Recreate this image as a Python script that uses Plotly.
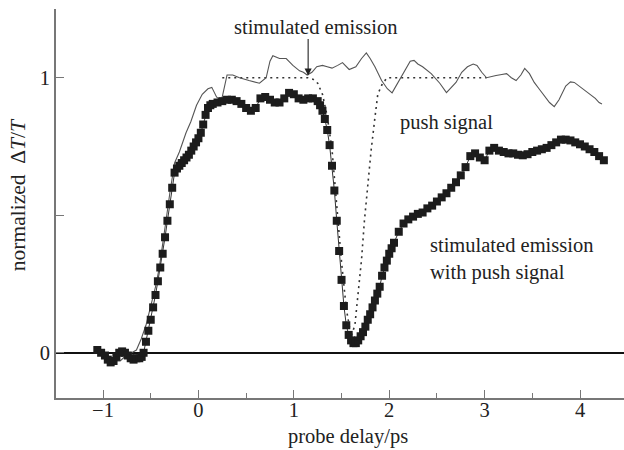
import plotly.graph_objects as go

# ---- data ----
sq_x = [-1.06, -1.02, -0.98, -0.95, -0.92, -0.89, -0.86, -0.83, -0.80, -0.77, -0.74, -0.71, -0.68, -0.65,
        -0.62, -0.595, -0.575, -0.55, -0.525, -0.50, -0.475, -0.45, -0.425, -0.40, -0.375, -0.35, -0.325,
        -0.30, -0.275, -0.25, -0.225, -0.20, -0.175, -0.15, -0.125, -0.10, -0.075, -0.05, -0.025, 0.0,
        0.025, 0.05, 0.075, 0.10, 0.125, 0.15, 0.20, 0.25, 0.30, 0.35, 0.40, 0.45, 0.50, 0.55, 0.60, 0.65,
        0.70, 0.75, 0.80, 0.85, 0.90, 0.95, 1.00, 1.05, 1.10, 1.15, 1.20, 1.25, 1.275, 1.30, 1.325, 1.35,
        1.375, 1.40, 1.425, 1.45, 1.475, 1.50, 1.525, 1.55, 1.575, 1.60, 1.625, 1.65, 1.675, 1.70, 1.725,
        1.75, 1.775, 1.80, 1.825, 1.85, 1.875, 1.90, 1.925, 1.95, 1.975, 2.00, 2.025, 2.05, 2.10, 2.15,
        2.20, 2.25, 2.30, 2.35, 2.40, 2.45, 2.50, 2.55, 2.60, 2.65, 2.70, 2.75, 2.80, 2.85, 2.90, 2.95,
        3.00, 3.05, 3.10, 3.15, 3.20, 3.25, 3.30, 3.35, 3.40, 3.45, 3.50, 3.55, 3.60, 3.65, 3.70, 3.75,
        3.80, 3.85, 3.90, 3.95, 4.00, 4.05, 4.10, 4.15, 4.20, 4.25]
sq_y = [0.01, 0.0, -0.01, -0.025, -0.035, -0.03, -0.015, 0.0, 0.005, 0.0, -0.01, -0.02, -0.025, -0.02,
        -0.02, -0.015, 0.0, 0.04, 0.08, 0.12, 0.165, 0.21, 0.26, 0.31, 0.36, 0.42, 0.48,
        0.54, 0.60, 0.655, 0.67, 0.68, 0.69, 0.70, 0.71, 0.72, 0.735, 0.75, 0.765, 0.78,
        0.80, 0.83, 0.865, 0.89, 0.90, 0.905, 0.91, 0.915, 0.92, 0.92, 0.915, 0.905, 0.89, 0.88, 0.89, 0.925,
        0.93, 0.92, 0.91, 0.91, 0.925, 0.945, 0.94, 0.925, 0.92, 0.925, 0.925, 0.915, 0.90, 0.88, 0.85, 0.81,
        0.755, 0.68, 0.59, 0.48, 0.37, 0.265, 0.17, 0.10, 0.065, 0.045, 0.035, 0.035, 0.045, 0.06, 0.075,
        0.095, 0.12, 0.14, 0.165, 0.19, 0.215, 0.24, 0.28, 0.31, 0.335, 0.36, 0.38, 0.40, 0.44, 0.47,
        0.485, 0.495, 0.505, 0.51, 0.525, 0.535, 0.55, 0.565, 0.58, 0.60, 0.62, 0.645, 0.675, 0.715, 0.725, 0.71,
        0.70, 0.735, 0.745, 0.735, 0.73, 0.725, 0.725, 0.72, 0.718, 0.722, 0.73, 0.735, 0.74, 0.745, 0.755, 0.765,
        0.775, 0.775, 0.772, 0.765, 0.758, 0.75, 0.74, 0.73, 0.715, 0.70]

se_x = [-0.95, -0.88, -0.82, -0.76, -0.70, -0.65, -0.60, -0.55, -0.50, -0.45, -0.41, -0.37, -0.34, -0.30,
        -0.25, -0.20, -0.13, -0.08, -0.02, 0.04, 0.10, 0.14, 0.19, 0.24, 0.27, 0.30, 0.36, 0.43, 0.53,
        0.64, 0.71, 0.75, 0.78, 0.85, 0.92, 0.99, 1.06, 1.10, 1.14, 1.19, 1.24, 1.30, 1.35, 1.40, 1.46,
        1.51, 1.58, 1.65, 1.71, 1.76, 1.80, 1.85, 1.92, 1.98, 2.03, 2.09, 2.16, 2.22, 2.26, 2.30, 2.35,
        2.44, 2.53, 2.60, 2.70, 2.76, 2.82, 2.88, 2.92, 2.97, 3.02, 3.07, 3.12, 3.18, 3.23, 3.28, 3.33,
        3.38, 3.42, 3.47, 3.52, 3.57, 3.61, 3.68, 3.73, 3.78, 3.85, 3.90, 3.94, 4.01, 4.10, 4.16, 4.20, 4.23]
se_y = [-0.01, -0.03, -0.03, -0.01, 0.0, 0.01, 0.05, 0.10, 0.17, 0.24, 0.31, 0.40, 0.48, 0.58,
        0.69, 0.73, 0.80, 0.84, 0.90, 0.94, 0.96, 0.965, 0.93, 0.915, 0.96, 1.01, 1.01, 1.0, 0.99,
        0.98, 1.0, 1.06, 1.08, 1.07, 1.07, 1.045, 1.025, 1.02, 1.01, 1.02, 1.04, 1.045, 1.04, 1.035, 1.045,
        1.055, 1.03, 1.04, 1.07, 1.09, 1.07, 1.04, 0.99, 0.96, 0.945, 0.98, 1.026, 1.06, 1.063, 1.05, 1.04,
        1.015, 0.98, 0.946, 0.983, 1.02, 1.04, 1.05, 1.045, 1.02, 1.0, 1.005, 1.008, 1.012, 1.015, 1.0, 0.99,
        1.01, 1.034, 1.015, 0.983, 0.96, 0.943, 0.91, 0.895, 0.92, 0.97, 0.985, 0.983, 0.965, 0.943, 0.925, 0.91, 0.905]

push_x = [0.25, 0.50, 0.75, 1.00, 1.15, 1.20, 1.25, 1.30, 1.35, 1.40, 1.45, 1.50, 1.55, 1.60, 1.64,
          1.67, 1.71, 1.74, 1.77, 1.81, 1.85, 1.88, 1.93, 1.98, 2.50, 3.02]
push_y = [1.0, 1.0, 1.0, 1.0, 1.0, 0.995, 0.98, 0.94, 0.86, 0.74, 0.52, 0.33, 0.16, 0.06, 0.10,
          0.21, 0.34, 0.48, 0.60, 0.735, 0.855, 0.94, 0.98, 1.0, 1.0, 1.0]

x_tickvals = [-1, 0, 1, 2, 3, 4]
x_ticktext = ["\u22121", "0", "1", "2", "3", "4"]
y_tickvals = [0, 0.5, 1, 1.25]
y_ticktext = ["0", "", "1", ""]

FONT = "Liberation Serif, Times New Roman, serif"
FS = 20.5
TXT = "#222222"
AXC = "#777777"

fig = go.Figure()
fig.add_trace(go.Scatter(x=push_x, y=push_y, mode="lines",
                         line=dict(color="#333333", width=1.6, dash="2px,4px"), hoverinfo="skip"))
fig.add_trace(go.Scatter(x=se_x, y=se_y, mode="lines",
                         line=dict(color="#555555", width=1.1), hoverinfo="skip"))
fig.add_trace(go.Scatter(x=sq_x, y=sq_y, mode="lines+markers",
                         line=dict(color="#333333", width=1),
                         marker=dict(symbol="square", size=8, color="#1c1c1c"), hoverinfo="skip"))

fig.update_layout(
    width=624, height=450,
    margin=dict(l=56, r=0, t=9, b=52),
    paper_bgcolor="white", plot_bgcolor="white",
    showlegend=False,
    font=dict(family=FONT, size=FS, color=TXT),
    xaxis=dict(range=[-1.493, 4.461], showgrid=False, zeroline=False,
               showline=True, linecolor=AXC, linewidth=1.6,
               ticks="inside", ticklen=8, tickwidth=1.2, tickcolor=AXC,
               tickvals=x_tickvals, ticktext=x_ticktext, ticklabelstandoff=-7,
               tickfont=dict(family=FONT, size=FS, color=TXT),
               minor=dict(tickvals=[-0.5, 0.5, 1.5, 2.5, 3.5], ticks="inside", ticklen=5,
                          tickwidth=1.2, tickcolor=AXC)),
    yaxis=dict(range=[-0.1645, 1.25], showgrid=False,
               zeroline=True, zerolinecolor="#111111", zerolinewidth=2.2,
               showline=True, linecolor=AXC, linewidth=1.6,
               ticks="inside", ticklen=8, tickwidth=1.2, tickcolor=AXC,
               tickvals=y_tickvals, ticktext=y_ticktext,
               tickfont=dict(family=FONT, size=FS, color=TXT)),
)

annots = [
    dict(text="stimulated emission", x=0.352, y=1.183, xref="x", yref="y",
         xanchor="left", yanchor="middle", showarrow=False),
    dict(text="", x=1.15, y=1.008, xref="x", yref="y", ax=0, ay=-38,
         showarrow=True, arrowhead=2, arrowsize=1.3, arrowwidth=1.1, arrowcolor="#222222"),
    dict(text="push signal", x=2.092, y=0.837, xref="x", yref="y",
         xanchor="left", yanchor="middle", showarrow=False),
    dict(text="stimulated emission<br>with push signal", x=2.406, y=0.34, xref="x", yref="y",
         xanchor="left", yanchor="middle", align="left", showarrow=False),
    dict(text="probe delay/ps", x=1.563, y=-0.100, xref="x", yref="paper",
         xanchor="center", yanchor="middle", showarrow=False),
    dict(text="normalized&nbsp; \u0394<i>T</i>/<i>T</i>", x=-0.0669, y=0.573, xref="paper", yref="y",
         xanchor="center", yanchor="middle", textangle=-90, showarrow=False,
         font=dict(family=FONT, size=21.5, color=TXT)),
]
for a in annots:
    a.setdefault("font", dict(family=FONT, size=FS, color=TXT))
fig.update_layout(annotations=annots)

fig.write_html("out.html")
